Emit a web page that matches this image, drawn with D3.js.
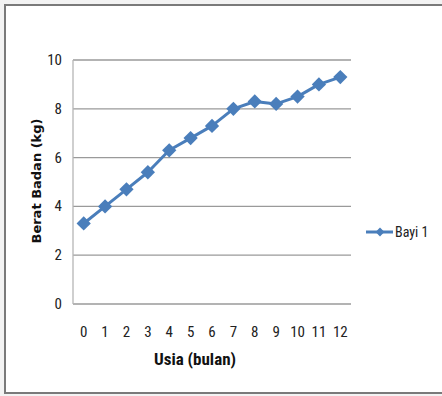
<!DOCTYPE html>
<html><head><meta charset="utf-8">
<script src="https://cdn.jsdelivr.net/npm/d3@7"></script>
<style>body{margin:0;background:#f3f3f3;} svg{display:block;}</style>
</head><body>
<svg id="c" width="442" height="396"></svg>
<script>
const categories = ["0","1","2","3","4","5","6","7","8","9","10","11","12"];
const values = [3.3, 4.0, 4.7, 5.4, 6.3, 6.8, 7.3, 8.0, 8.3, 8.2, 8.5, 9.0, 9.3];
const yTicks = [0, 2, 4, 6, 8, 10];
const seriesName = "Bayi 1";
const xTitle = "Usia (bulan)";
const yTitle = "Berat Badan (kg)";

const svg = d3.select("#c");
const color = "#4a7ebb";
const narrow = "'Liberation Sans Narrow','Arial Narrow','Roboto Condensed',sans-serif";

// chart frame
svg.append("rect").attr("x",5).attr("y",5).attr("width",445).attr("height",388)
  .attr("fill","#fff").attr("stroke","#7a7a7a").attr("stroke-width",2);

const x = d3.scaleBand().domain(categories).range([73, 351]);
const y = d3.scaleLinear().domain([0, 10]).range([304, 60]);

// gridlines
svg.append("g").selectAll("line").data(yTicks).join("line")
  .attr("x1",73).attr("x2",351).attr("y1",d=>y(d)).attr("y2",d=>y(d))
  .attr("stroke","#9a9a9a").attr("stroke-width",1.3);
// left axis line
svg.append("line").attr("x1",73).attr("x2",73).attr("y1",60).attr("y2",304)
  .attr("stroke","#b5b5b5").attr("stroke-width",1.3);

// y tick labels
svg.append("g").selectAll("text").data(yTicks).join("text")
  .attr("x",62).attr("y",d=>y(d)+5).attr("text-anchor","end")
  .attr("font-family",narrow).attr("font-size",15).attr("fill","#222")
  .text(d=>d);
// x tick labels
svg.append("g").selectAll("text").data(categories).join("text")
  .attr("x",d=>x(d)+x.bandwidth()/2).attr("y",337).attr("text-anchor","middle")
  .attr("font-family",narrow).attr("font-size",15).attr("fill","#222")
  .text(d=>d);

// axis titles
svg.append("text").attr("x",195).attr("y",365).attr("text-anchor","middle")
  .attr("font-family",narrow).attr("font-size",17).attr("font-weight","bold").attr("fill","#111")
  .text(xTitle);
svg.append("text").attr("transform","translate(41,181) rotate(-90)").attr("text-anchor","middle")
  .attr("font-family","'DejaVu Sans',sans-serif").attr("font-size",13).attr("font-weight","bold").attr("fill","#111")
  .text(yTitle);

// series
const pts = categories.map((c,i)=>({c, v:values[i]}));
const line = d3.line().x(d=>x(d.c)+x.bandwidth()/2).y(d=>y(d.v));
svg.append("path").datum(pts).attr("d",line).attr("fill","none")
  .attr("stroke",color).attr("stroke-width",3).attr("stroke-linejoin","round");
const diamond = d3.symbol().type(d3.symbolDiamond2).size(130);
svg.append("g").selectAll("path").data(pts).join("path")
  .attr("d",diamond).attr("transform",d=>`translate(${x(d.c)+x.bandwidth()/2},${y(d.v)})`)
  .attr("fill",color);

// legend
svg.append("line").attr("x1",366).attr("x2",393).attr("y1",232).attr("y2",232)
  .attr("stroke",color).attr("stroke-width",3);
svg.append("path").attr("d",d3.symbol().type(d3.symbolDiamond2).size(50)())
  .attr("transform","translate(380,232)").attr("fill",color);
svg.append("text").attr("x",395).attr("y",237).attr("font-family",narrow).attr("font-size",14).attr("fill","#222")
  .text(seriesName);
</script>
</body></html>
